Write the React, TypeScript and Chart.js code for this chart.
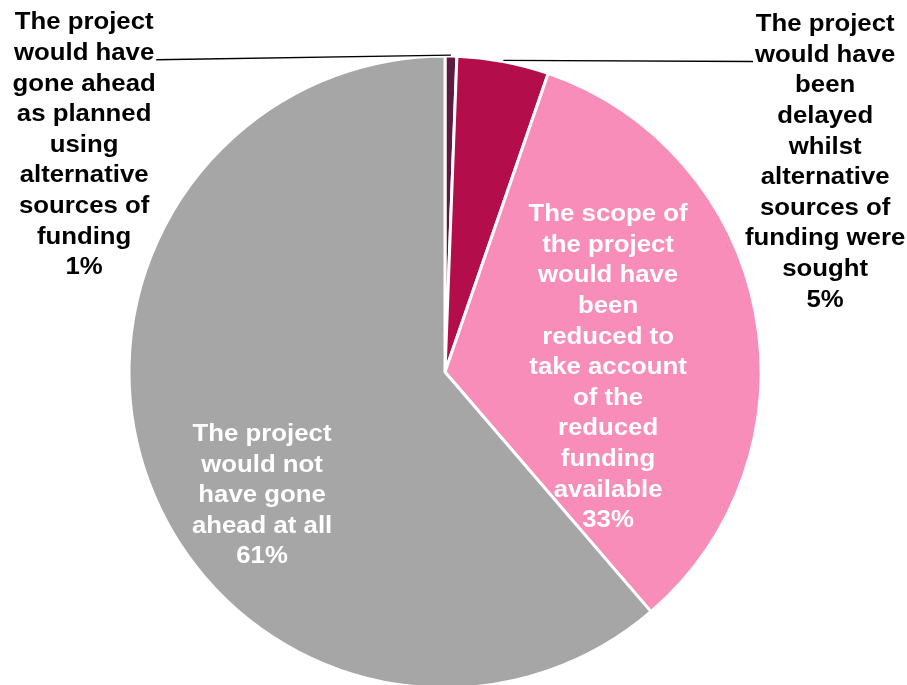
import React, { useEffect, useRef } from "react";
import { Chart, registerables } from "chart.js";

Chart.register(...registerables);

const categories = [
  "The project would have gone ahead as planned using alternative sources of funding",
  "The project would have been delayed whilst alternative sources of funding were sought",
  "The scope of the project would have been reduced to take account of the reduced funding available",
  "The project would not have gone ahead at all",
];
const values = [0.6, 4.7, 33.4, 61.3];
const percentLabels = ["1%", "5%", "33%", "61%"];
const colors = ["#5e1a40", "#b30d4b", "#f78db8", "#a6a6a6"];

const labelLines: string[][] = [
  ["The project", "would have", "gone ahead", "as planned", "using", "alternative", "sources of", "funding"],
  ["The project", "would have", "been", "delayed", "whilst", "alternative", "sources of", "funding were", "sought"],
  ["The scope of", "the project", "would have", "been", "reduced to", "take account", "of the", "reduced", "funding", "available"],
  ["The project", "would not", "have gone", "ahead at all"],
];
// label block centre relative to pie centre, in units of radius
const labelOffsets = [
  [-1.142, -0.717],
  [1.203, -0.663],
  [0.516, -0.013],
  [-0.579, 0.392],
];
const labelColors = ["#000000", "#000000", "#ffffff", "#ffffff"];
const outside = [true, true, false, false];

const FONT = 'bold 23px "Liberation Sans", Arial, sans-serif';
const LINE_H = 30.6;
const XSCALE = 1.12;

const labelPlugin = {
  id: "pieLabels",
  afterDatasetsDraw(chart: any) {
    const ctx = chart.ctx;
    const meta = chart.getDatasetMeta(0);
    meta.data.forEach((arc: any, i: number) => {
      const { x, y, outerRadius, startAngle, endAngle } = arc.getProps(
        ["x", "y", "outerRadius", "startAngle", "endAngle"],
        true
      );
      const lines = [...labelLines[i], percentLabels[i]];
      const cx = x + labelOffsets[i][0] * outerRadius;
      const cy = y + labelOffsets[i][1] * outerRadius;
      const top = cy - ((lines.length - 1) * LINE_H) / 2;
      ctx.save();
      if (outside[i]) {
        const mid = (startAngle + endAngle) / 2;
        const ex = x + Math.cos(mid) * (outerRadius + 1);
        const ey = y + Math.sin(mid) * (outerRadius + 1);
        ctx.strokeStyle = "#000000";
        ctx.lineWidth = 1.3;
        ctx.beginPath();
        ctx.moveTo(ex, ey);
        // connect to side of second text line
        ctx.font = FONT;
        const w = ctx.measureText(lines[1]).width * XSCALE;
        const ly = top + LINE_H * 1.2;
        const lx = i === 0 ? cx + w / 2 + 2 : cx - w / 2 - 2;
        ctx.lineTo(lx, ly);
        ctx.stroke();
      }
      ctx.font = FONT;
      ctx.fillStyle = labelColors[i];
      ctx.textAlign = "center";
      ctx.textBaseline = "middle";
      lines.forEach((ln, k) => {
        ctx.save();
        ctx.translate(cx, top + k * LINE_H);
        ctx.scale(XSCALE, 1);
        ctx.fillText(ln, 0, 0);
        ctx.restore();
      });
      ctx.restore();
    });
  },
};

export default function App() {
  const ref = useRef<HTMLCanvasElement | null>(null);
  useEffect(() => {
    document.body.style.margin = "0";
    const chart = new Chart(ref.current as HTMLCanvasElement, {
      type: "pie",
      data: {
        labels: categories,
        datasets: [
          {
            data: values,
            backgroundColor: colors,
            borderColor: "#ffffff",
            borderWidth: 3,
            clip: false,
          } as any,
        ],
      },
      options: {
        responsive: false,
        animation: false,
        radius: 316,
        layout: { padding: { top: 59, left: 0, right: 17, bottom: 0 } },
        plugins: {
          legend: { display: false },
          tooltip: { enabled: false },
        },
      } as any,
      plugins: [labelPlugin],
    });
    return () => chart.destroy();
  }, []);
  return (
    <div style={{ position: "absolute", left: 0, top: 0, width: 907, height: 685, overflow: "hidden", background: "#fff" }}>
      <canvas ref={ref} width={907} height={685} style={{ width: 907, height: 685 }} />
    </div>
  );
}
